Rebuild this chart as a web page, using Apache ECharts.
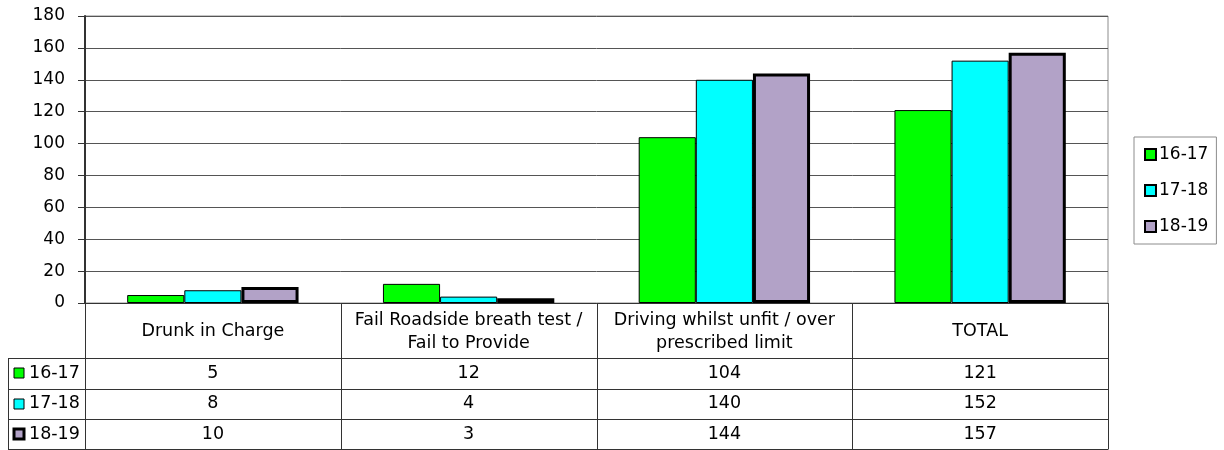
<!DOCTYPE html>
<html>
<head>
<meta charset="utf-8">
<script src="https://cdn.jsdelivr.net/npm/echarts@6/dist/echarts.min.js"></script>
<style>
html,body{margin:0;padding:0;background:#fff;}
#chart{width:1224px;height:450px;}
</style>
</head>
<body>
<div id="chart"></div>
<script>
// ---- data ----
const categories = [
  'Drunk in Charge',
  'Fail Roadside breath test /\nFail to Provide',
  'Driving whilst unfit / over\nprescribed limit',
  'TOTAL'
];
const seriesNames = ['16-17', '17-18', '18-19'];
const values1617 = [5, 12, 104, 121];
const values1718 = [8, 4, 140, 152];
const values1819 = [10, 3, 144, 157];
const yTicks = [0, 20, 40, 60, 80, 100, 120, 140, 160, 180];

// ---- style ----
const FONT = '"DejaVu Sans", Verdana, sans-serif';
const FS = 17;
const TFS = 17.5;
const colors = ['#00ff00', '#00ffff', '#b2a2c7'];
const borderWidths = [1, 1, 3];
const allValues = [values1617, values1718, values1819];

const chart = echarts.init(document.getElementById('chart'));

const option = {
  animation: false,
  backgroundColor: '#ffffff',
  textStyle: { fontFamily: FONT, fontSize: FS, color: '#000' },
  grid: {
    left: 85, right: 116, top: 16, height: 287,
    show: true, borderColor: '#8c8c8c', borderWidth: 1, backgroundColor: 'transparent'
  },
  legend: {
    orient: 'vertical',
    left: 1134, top: 137,
    padding: [9, 8, 9, 10],
    itemGap: 19,
    itemWidth: 11, itemHeight: 11,
    icon: 'rect',
    borderColor: '#8c8c8c', borderWidth: 1,
    backgroundColor: '#fff',
    textStyle: { fontFamily: FONT, fontSize: FS, color: '#000', padding: [0, 0, 0, -2] },
    data: seriesNames
  },
  xAxis: {
    type: 'category',
    data: categories,
    axisLine: { show: true, lineStyle: { color: '#333', width: 1 } },
    axisTick: { show: false },
    axisLabel: { show: false },
    splitLine: { show: false }
  },
  yAxis: {
    type: 'value',
    min: yTicks[0], max: yTicks[yTicks.length - 1], interval: yTicks[1] - yTicks[0],
    axisLine: { show: true, lineStyle: { color: '#333', width: 2 } },
    axisTick: { show: true, length: 7, lineStyle: { color: '#333', width: 1 } },
    axisLabel: { margin: 20, fontFamily: FONT, fontSize: FS, color: '#000' },
    splitLine: { show: true, lineStyle: { color: '#555', width: 1 } }
  },
  series: seriesNames.map((name, i) => ({
    name: name,
    type: 'bar',
    data: allValues[i],
    barGap: '0%',
    barCategoryGap: '33%',
    itemStyle: { color: colors[i], borderColor: '#000', borderWidth: borderWidths[i] }
  }))
};
chart.setOption(option);

// ---- data table under the plot, positioned from the axes ----
const c0 = chart.convertToPixel({ xAxisIndex: 0 }, 0);
const c1 = chart.convertToPixel({ xAxisIndex: 0 }, 1);
const band = c1 - c0;
const yZero = chart.convertToPixel({ yAxisIndex: 0 }, 0);
const leftEdge = c0 - band / 2;
const rightEdge = leftEdge + band * categories.length;
const tableLeft = 8;
const headerBottom = 358;
const rowH = 30.5;
const tableBottom = headerBottom + rowH * seriesNames.length;
const lineColor = '#333';
const px = v => Math.round(v) + 0.5;

const g = [];
// vertical column dividers
for (let i = 0; i <= categories.length; i++) {
  const x = px(leftEdge + band * i);
  g.push({ type: 'line', shape: { x1: x, y1: yZero, x2: x, y2: tableBottom }, style: { stroke: lineColor, lineWidth: 1 }, silent: true });
}
// left border of the series-name column
g.push({ type: 'line', shape: { x1: px(tableLeft), y1: px(headerBottom), x2: px(tableLeft), y2: tableBottom }, style: { stroke: lineColor, lineWidth: 1 }, silent: true });
// horizontal row lines
for (let r = 0; r <= seriesNames.length; r++) {
  const y = Math.min(px(headerBottom + rowH * r), 449.5);
  g.push({ type: 'line', shape: { x1: tableLeft, y1: y, x2: rightEdge, y2: y }, style: { stroke: lineColor, lineWidth: 1 }, silent: true });
}
// header texts
categories.forEach((cat, i) => {
  g.push({
    type: 'text', silent: true,
    style: {
      text: cat, x: c0 + band * i, y: (yZero + headerBottom) / 2 + 1,
      align: 'center', verticalAlign: 'middle',
      font: TFS + 'px ' + FONT, fill: '#000', lineHeight: 23
    }
  });
});
// data rows
seriesNames.forEach((name, r) => {
  const yc = headerBottom + rowH * r + rowH / 2;
  g.push({
    type: 'rect', silent: true,
    shape: { x: 14, y: Math.round(yc - 5), width: 10, height: 10 },
    style: { fill: colors[r], stroke: '#000', lineWidth: borderWidths[r] }
  });
  g.push({
    type: 'text', silent: true,
    style: { text: name, x: 29, y: yc, align: 'left', verticalAlign: 'middle', font: TFS + 'px ' + FONT, fill: '#000' }
  });
  allValues[r].forEach((v, i) => {
    g.push({
      type: 'text', silent: true,
      style: { text: String(v), x: c0 + band * i, y: yc, align: 'center', verticalAlign: 'middle', font: TFS + 'px ' + FONT, fill: '#000' }
    });
  });
});
chart.setOption({ graphic: g });
</script>
</body>
</html>
